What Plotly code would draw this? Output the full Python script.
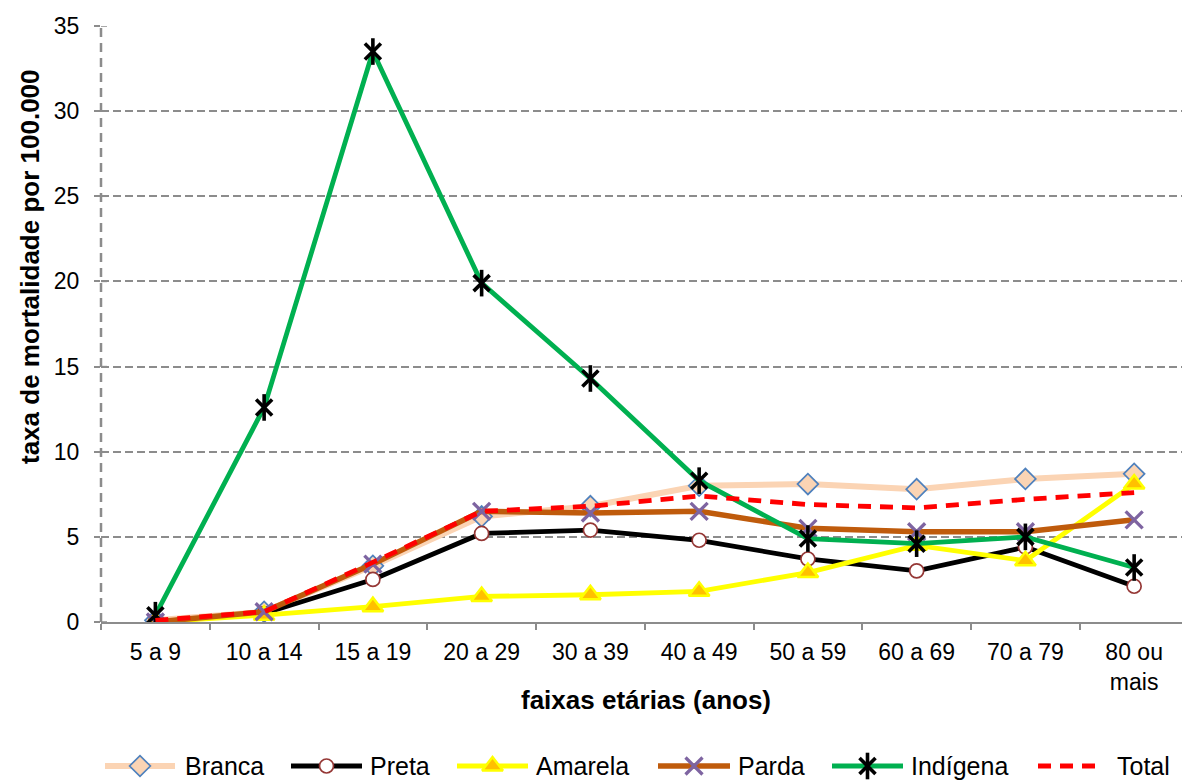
import plotly.graph_objects as go

faixas = ["5 a 9", "10 a 14", "15 a 19", "20 a 29", "30 a 39",
          "40 a 49", "50 a 59", "60 a 69", "70 a 79", "80 ou<br>mais"]

branca = [0.1, 0.6, 3.3, 6.2, 6.8, 8.0, 8.1, 7.8, 8.4, 8.7]
preta = [0.0, 0.5, 2.5, 5.2, 5.4, 4.8, 3.7, 3.0, 4.4, 2.1]
amarela = [0.0, 0.4, 0.9, 1.5, 1.6, 1.8, 2.9, 4.5, 3.6, 8.1]
parda = [0.0, 0.6, 3.4, 6.5, 6.4, 6.5, 5.5, 5.3, 5.3, 6.0]
indigena = [0.4, 12.6, 33.5, 19.9, 14.3, 8.3, 4.9, 4.6, 5.0, 3.2]
total = [0.1, 0.6, 3.5, 6.5, 6.8, 7.4, 6.9, 6.7, 7.2, 7.6]

y_ticks = [0, 5, 10, 15, 20, 25, 30, 35]

W, H = 1182, 781
FONT = "Liberation Sans, Arial, sans-serif"
GRID = "#8c8c8c"

# plot area in pixels
PL, PR, PT, PB = 101, 1182, 26, 622

# series styles: line and marker (None = no marker)
styles = {
    "Branca": dict(line=dict(color="#fbd4b4", width=6),
                   marker=dict(symbol="diamond", size=16, color="#fbd4b4",
                               line=dict(color="#4f81bd", width=1.7))),
    "Preta": dict(line=dict(color="#000000", width=4.8),
                  marker=dict(symbol="circle", size=14, color="#ffffff",
                              line=dict(color="#953735", width=1.7))),
    "Amarela": dict(line=dict(color="#ffff00", width=4.8),
                    marker=dict(symbol="triangle-up", size=18, color="#ffc000",
                                line=dict(color="#ffff00", width=2.5))),
    "Parda": dict(line=dict(color="#bf5b0c", width=5.5),
                  marker=dict(symbol="x-thin-open", size=17, color="#7e64a1",
                              line=dict(color="#7e64a1", width=3.3))),
    "Indígena": dict(line=dict(color="#00b050", width=4.8),
                     marker=dict(symbol="x-thin-open", size=16, color="#000000",
                                 line=dict(color="#000000", width=3.6))),
    "Total": dict(line=dict(color="#ff0000", width=4.8, dash="13px,9px"),
                  marker=None),
}
# vertical bar that turns the Indígena cross into a star
star_bar = dict(symbol="line-ns-open", size=19, color="#000000",
                line=dict(color="#000000", width=3.6))

series = [("Branca", branca), ("Preta", preta), ("Amarela", amarela),
          ("Parda", parda), ("Indígena", indigena), ("Total", total)]

fig = go.Figure()

for name, values in series:
    st = styles[name]
    fig.add_trace(go.Scatter(
        x=faixas, y=values, name=name,
        mode="lines+markers" if st["marker"] else "lines",
        line=st["line"], marker=st["marker"] or {},
        showlegend=False, xaxis="x", yaxis="y",
    ))
    if name == "Indígena":
        fig.add_trace(go.Scatter(
            x=faixas, y=values, mode="markers", marker=star_bar,
            showlegend=False, hoverinfo="skip", xaxis="x", yaxis="y",
        ))

# legend drawn in a pixel-space overlay: (name, line start, line end, text x)
legend_items = [("Branca", 105, 175, 183), ("Preta", 291, 362, 368),
                ("Amarela", 457, 528, 534), ("Parda", 658, 730, 736),
                ("Indígena", 832, 903, 909), ("Total", 1038, 1101, 1115)]
LEG_Y = 766
for name, x0, x1, tx in legend_items:
    st = styles[name]
    fig.add_trace(go.Scatter(
        x=[x0, x1], y=[LEG_Y, LEG_Y], mode="lines", line=st["line"],
        showlegend=False, hoverinfo="skip", xaxis="x2", yaxis="y2",
    ))
    if st["marker"]:
        fig.add_trace(go.Scatter(
            x=[(x0 + x1) / 2], y=[LEG_Y], mode="markers", marker=st["marker"],
            showlegend=False, hoverinfo="skip", xaxis="x2", yaxis="y2",
        ))
    if name == "Indígena":
        fig.add_trace(go.Scatter(
            x=[(x0 + x1) / 2], y=[LEG_Y], mode="markers", marker=star_bar,
            showlegend=False, hoverinfo="skip", xaxis="x2", yaxis="y2",
        ))
    fig.add_annotation(x=tx, y=LEG_Y, xref="x2", yref="y2", text=name,
                       showarrow=False, xanchor="left", yanchor="middle",
                       font=dict(family=FONT, size=25, color="#000000"))

# axis titles
fig.add_annotation(x=646, y=700, xref="x2", yref="y2",
                   text="<b>faixas etárias (anos)</b>", showarrow=False,
                   xanchor="center", yanchor="middle",
                   font=dict(family=FONT, size=26, color="#000000"))
fig.add_annotation(x=30, y=267, xref="x2", yref="y2", textangle=-90,
                   text="<b>taxa de mortalidade por 100.000</b>", showarrow=False,
                   xanchor="center", yanchor="middle",
                   font=dict(family=FONT, size=26, color="#000000"))

shapes = [
    # dashed vertical value axis
    dict(type="line", xref="x domain", yref="y", x0=0, x1=0, y0=0, y1=35,
         line=dict(color=GRID, width=2.5, dash="9px,6px"), layer="below"),
]
# inner halves of the value-axis tick marks
for v in y_ticks:
    shapes.append(dict(type="line", xref="paper", yref="y",
                       x0=PL / W, x1=(PL + 6) / W, y0=v, y1=v,
                       line=dict(color=GRID, width=1.5), layer="below"))

fig.update_layout(
    width=W, height=H,
    margin=dict(l=0, r=0, t=0, b=0, autoexpand=False),
    paper_bgcolor="white", plot_bgcolor="rgba(0,0,0,0)",
    font=dict(family=FONT, size=23, color="#000000"),
    showlegend=False,
    shapes=shapes,
    xaxis=dict(
        domain=[PL / W, PR / W], anchor="y",
        type="category", range=[-0.5, 9.44],
        showgrid=False, showline=True, linecolor=GRID, linewidth=2,
        ticks="outside", tickson="boundaries", ticklen=6, tickcolor=GRID, tickwidth=1.5,
        ticklabelstandoff=8,
        tickfont=dict(family=FONT, size=23),
        automargin=False, fixedrange=True,
    ),
    yaxis=dict(
        domain=[(H - PB) / H, (H - PT) / H], anchor="x",
        range=[0, 35], tickvals=y_ticks,
        showgrid=True, gridcolor=GRID, gridwidth=1.5, griddash="8px,4px",
        showline=False, zeroline=False,
        ticks="outside", ticklen=6, tickcolor=GRID, tickwidth=1.5,
        ticklabelstandoff=10,
        tickfont=dict(family=FONT, size=23),
        automargin=False, fixedrange=True,
    ),
    xaxis2=dict(domain=[0, 1], range=[0, W], visible=False, anchor="y2", fixedrange=True),
    yaxis2=dict(domain=[0, 1], range=[H, 0], visible=False, anchor="x2", fixedrange=True),
)

fig.write_html("out.html")
